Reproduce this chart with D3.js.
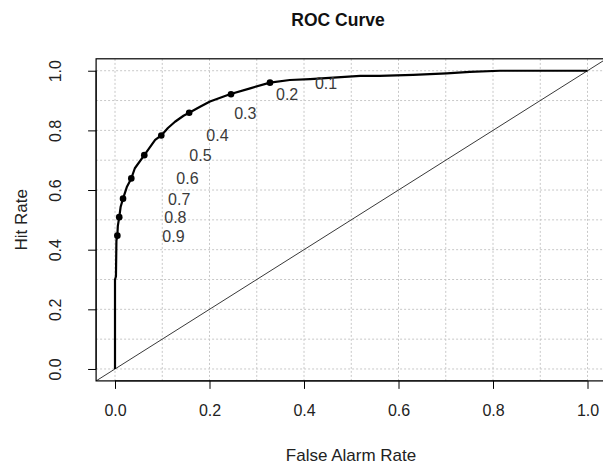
<!DOCTYPE html>
<html>
<head>
<meta charset="utf-8">
<script src="https://cdn.jsdelivr.net/npm/d3@7"></script>
<style>
  body { margin: 0; background: #fff; }
  text { font-family: "Liberation Sans", Arial, sans-serif; }
</style>
</head>
<body>
<div id="chart"></div>
<script>
// ROC curve
const curveFAR = [0, 0, 0.002, 0.003, 0.005, 0.006, 0.009, 0.012, 0.017, 0.025, 0.0345, 0.042, 0.062, 0.085, 0.098,
  0.112, 0.127, 0.145, 0.157, 0.18, 0.201, 0.243, 0.286, 0.328, 0.37, 0.413, 0.519, 0.56, 0.631, 0.702, 0.751, 0.815, 1];
const curveHR = [0, 0.30, 0.31, 0.43, 0.447, 0.48, 0.509, 0.544, 0.571, 0.61, 0.639, 0.673, 0.717, 0.768, 0.783,
  0.808, 0.829, 0.849, 0.859, 0.879, 0.897, 0.921, 0.941, 0.960, 0.969, 0.972, 0.983, 0.983, 0.986, 0.991, 0.996, 1, 1];

// threshold points
const thresholds = ["0.1", "0.2", "0.3", "0.4", "0.5", "0.6", "0.7", "0.8", "0.9"];
const thrFAR = [0.328, 0.2455, 0.157, 0.098, 0.062, 0.0345, 0.017, 0.009, 0.005];
const thrHR = [0.960, 0.921, 0.859, 0.783, 0.717, 0.639, 0.571, 0.509, 0.447];

const tickValues = [0, 0.2, 0.4, 0.6, 0.8, 1.0];
const gridValues = d3.range(0, 11).map(d => d / 10);

const width = 603, height = 464;

const svg = d3.select("#chart").append("svg")
  .attr("width", width)
  .attr("height", height);

// scales (R style 4% padding)
const x = d3.scaleLinear().domain([-0.04, 1.04]).range([96.1, 606.4]);
const y = d3.scaleLinear().domain([-0.04, 1.04]).range([380.9, 58.8]);

svg.append("defs").append("clipPath").attr("id", "plotclip")
  .append("rect")
  .attr("x", x(-0.04)).attr("y", y(1.04))
  .attr("width", x(1.04) - x(-0.04))
  .attr("height", y(-0.04) - y(1.04));

// grid
const grid = svg.append("g")
  .attr("stroke", "#c8c8c8")
  .attr("stroke-width", 1)
  .attr("stroke-dasharray", "2,2");

grid.selectAll(".gx").data(gridValues).enter().append("line")
  .attr("x1", d => x(d)).attr("x2", d => x(d))
  .attr("y1", y(-0.04)).attr("y2", y(1.04));

grid.selectAll(".gy").data(gridValues).enter().append("line")
  .attr("y1", d => y(d)).attr("y2", d => y(d))
  .attr("x1", x(-0.04)).attr("x2", x(1.04));

// diagonal reference line
const plot = svg.append("g").attr("clip-path", "url(#plotclip)");
plot.append("line")
  .attr("x1", x(-0.04)).attr("y1", y(-0.04))
  .attr("x2", x(1.04)).attr("y2", y(1.04))
  .attr("stroke", "#222")
  .attr("stroke-width", 0.9);

// roc curve
const line = d3.line()
  .x((d, i) => x(curveFAR[i]))
  .y((d, i) => y(curveHR[i]));

plot.append("path")
  .datum(curveFAR)
  .attr("d", line)
  .attr("fill", "none")
  .attr("stroke", "#000")
  .attr("stroke-width", 2.2)
  .attr("stroke-linejoin", "round");

// threshold dots and labels
plot.selectAll(".dot").data(thresholds).enter().append("circle")
  .attr("cx", (d, i) => x(thrFAR[i]))
  .attr("cy", (d, i) => y(thrHR[i]))
  .attr("r", 3.3)
  .attr("fill", "#000");

svg.selectAll(".thr").data(thresholds).enter().append("text")
  .attr("x", (d, i) => x(thrFAR[i]) + 45)
  .attr("y", (d, i) => y(thrHR[i]) + 6)
  .attr("font-size", 16)
  .attr("fill", "#3a3a3a")
  .text(d => d);

// box
svg.append("rect")
  .attr("x", x(-0.04)).attr("y", y(1.04))
  .attr("width", x(1.04) - x(-0.04))
  .attr("height", y(-0.04) - y(1.04))
  .attr("fill", "none")
  .attr("stroke", "#000")
  .attr("stroke-width", 1.2);

// axes
const xAxis = svg.append("g")
  .attr("transform", "translate(0," + y(-0.04) + ")")
  .call(d3.axisBottom(x).tickValues(tickValues).tickFormat(d3.format(".1f")).tickSize(8).tickPadding(16));
xAxis.select(".domain").attr("d", "M" + x(0) + ",0H" + x(1));
xAxis.selectAll("text").attr("font-size", 16).attr("fill", "#222").attr("font-family", "Liberation Sans, Arial, sans-serif");

const yAxis = svg.append("g")
  .attr("transform", "translate(" + x(-0.04) + ",0)")
  .call(d3.axisLeft(y).tickValues(tickValues).tickFormat(d3.format(".1f")).tickSize(8));
yAxis.select(".domain").attr("d", "M0," + y(0) + "V" + y(1));
yAxis.selectAll(".tick text")
  .attr("font-size", 16).attr("fill", "#222")
  .attr("font-family", "Liberation Sans, Arial, sans-serif")
  .attr("x", null).attr("dy", null)
  .attr("text-anchor", "middle")
  .attr("transform", "translate(-35,0) rotate(-90)");

// titles
svg.append("text")
  .attr("x", 338).attr("y", 26)
  .attr("text-anchor", "middle")
  .attr("font-size", 17.5)
  .attr("font-weight", "bold")
  .attr("fill", "#111")
  .text("ROC Curve");

svg.append("text")
  .attr("x", 351).attr("y", 461)
  .attr("text-anchor", "middle")
  .attr("font-size", 17)
  .attr("fill", "#222")
  .text("False Alarm Rate");

svg.append("text")
  .attr("transform", "translate(27," + y(0.5) + ") rotate(-90)")
  .attr("text-anchor", "middle")
  .attr("font-size", 17)
  .attr("fill", "#222")
  .text("Hit Rate");
</script>
</body>
</html>
